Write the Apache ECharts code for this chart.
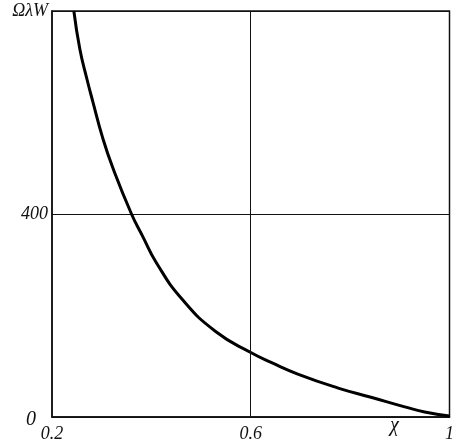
<!DOCTYPE html>
<html>
<head>
<meta charset="utf-8">
<script src="https://cdn.jsdelivr.net/npm/echarts@6/dist/echarts.min.js"></script>
<style>html,body{margin:0;padding:0;background:#fff}#c{width:457px;height:448px}</style>
</head>
<body>
<div id="c"></div>
<script>
const xValues = [0.244, 0.256, 0.270, 0.282, 0.302, 0.322, 0.360, 0.382, 0.410, 0.462, 0.530, 0.602, 0.642, 0.696, 0.776, 0.842, 0.910, 0.950, 1.0];
const yValues = [800, 725, 667, 622, 550, 492, 400, 357, 304, 232, 168, 126, 107, 84, 57, 39, 20, 10, 2];
const xTickLabels = {0.2: '0.2', 0.6: '0.6', 1: '1'};
const yTickLabels = {0: '{z|0}', 400: '400', 800: 'ΩλW'};
const xName = 'χ';

const font = 'Liberation Serif';
const chart = echarts.init(document.getElementById('c'), null, {renderer: 'canvas'});
chart.setOption({
  animation: false,
  backgroundColor: '#fff',
  grid: {left: 52, right: 6, top: 11, bottom: 31, show: true, borderColor: '#111', borderWidth: 1.5, backgroundColor: 'transparent'},
  xAxis: {
    type: 'value', min: 0.2, max: 1, interval: 0.2,
    axisLine: {show: true, lineStyle: {color: '#111', width: 1.5}},
    axisTick: {show: false},
    splitLine: {show: false},
    axisLabel: {
      color: '#111', fontFamily: font, fontStyle: 'italic', fontSize: 18, margin: 8,
      formatter: v => xTickLabels[Math.round(v * 10) / 10] || ''
    }
  },
  yAxis: {
    type: 'value', min: 0, max: 800, interval: 400,
    axisLine: {show: true, lineStyle: {color: '#111', width: 1.5}},
    axisTick: {show: false},
    splitLine: {show: true, lineStyle: {color: '#111', width: 1}},
    axisLabel: {
      color: '#111', fontFamily: font, fontStyle: 'italic', fontSize: 18, margin: 4,
      formatter: v => yTickLabels[v] || '',
      rich: {z: {fontFamily: font, fontStyle: 'italic', fontSize: 20, color: '#111', padding: [6, 12, 0, 0]}}
    }
  },
  graphic: [{
    type: 'text', left: 390, top: 416,
    style: {text: xName, fontFamily: font, fontStyle: 'italic', fontSize: 20, fill: '#111'}
  }],
  series: [{
    type: 'line',
    data: xValues.map((x, i) => [x, yValues[i]]),
    smooth: true,
    showSymbol: false,
    lineStyle: {color: '#000', width: 3},
    markLine: {
      silent: true, symbol: 'none', label: {show: false},
      lineStyle: {color: '#111', width: 1, type: 'solid'},
      data: [{xAxis: 0.6}]
    }
  }]
});
</script>
</body>
</html>
